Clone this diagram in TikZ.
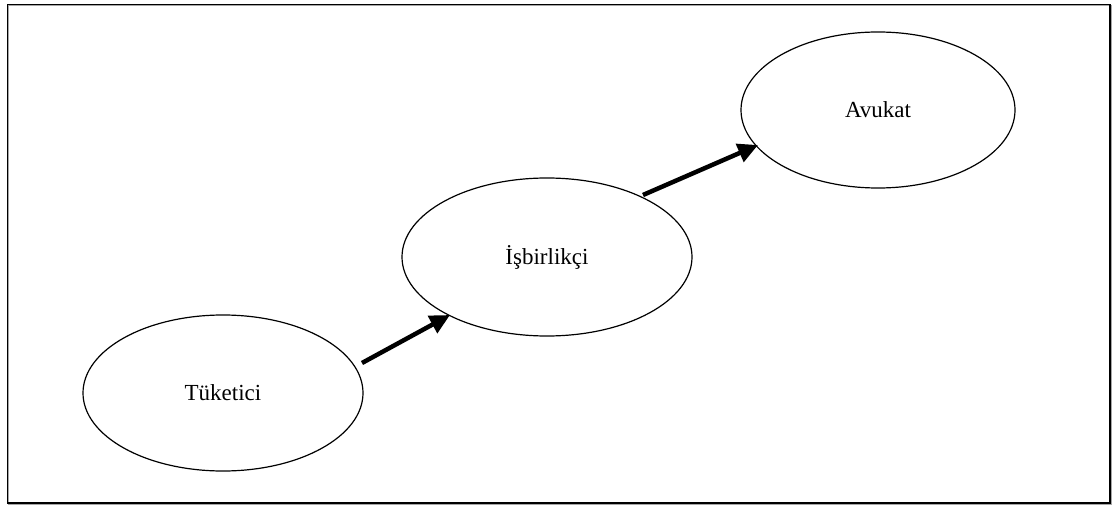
\documentclass[tikz,border=0pt]{standalone}
\usepackage{fontspec}
\setmainfont{Liberation Serif}
\usetikzlibrary{shapes.geometric,arrows.meta,calc}
\begin{document}
\begin{tikzpicture}[x=1pt,y=1pt,
  bubble/.style={draw,line width=1.2pt,ellipse,inner sep=0pt,font=\fontsize{23}{28}\selectfont},
  arr/.style={line width=4.5pt,-{Triangle[length=20pt,width=19pt]}}]
\useasboundingbox (0,0) rectangle (1116,507);
\draw[gray!70,line width=1.6pt] (8.5,3) rectangle (1111,501.5);
\draw[line width=1.6pt] (7.5,4) rectangle (1110,502.5);
\node[bubble,minimum width=280pt,minimum height=156pt] (t) at (223,114) {Tüketici};
\node[bubble,minimum width=290pt,minimum height=158pt] (i) at (547,250) {İşbirlikçi};
\node[bubble,minimum width=274pt,minimum height=156pt] (a) at (878,397) {Avukat};
\draw[arr] ($(t.center)+(139,30)$) -- ($(i.center)+(-97,-58)$);
\draw[arr] ($(i.center)+(96,62)$) -- ($(a.center)+(-120,-35)$);
\end{tikzpicture}
\end{document}
